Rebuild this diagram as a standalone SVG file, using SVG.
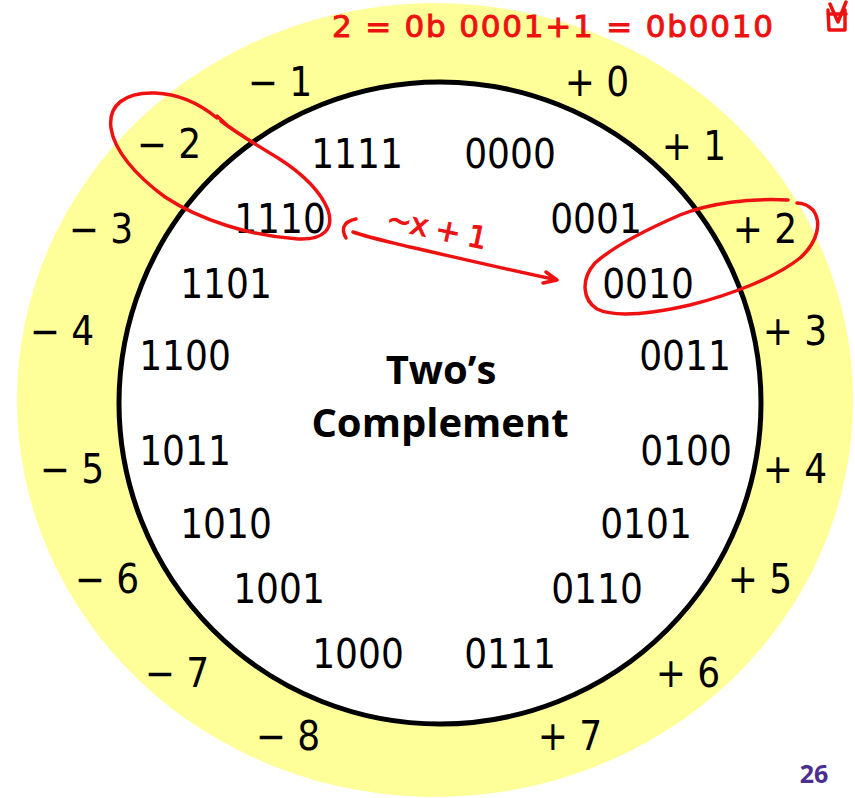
<svg xmlns="http://www.w3.org/2000/svg" width="855" height="798" viewBox="0 0 855 798">
<style>
.bin{font-family:"DejaVu Sans Condensed","DejaVu Sans",sans-serif;font-stretch:condensed;font-size:40px;fill:#000;text-anchor:middle}
.num{font-family:"DejaVu Sans Condensed","DejaVu Sans",sans-serif;font-stretch:condensed;font-size:40px;fill:#000;text-anchor:middle}
.title{font-family:"Open Sans","Liberation Sans",sans-serif;font-weight:700;font-size:40px;fill:#000;text-anchor:middle}
.page{font-family:"Open Sans","Liberation Sans",sans-serif;font-weight:700;font-size:25px;fill:#4b2e8e;text-anchor:middle}
.ink{fill:none;stroke:#ee1111;stroke-width:3.5;stroke-linecap:round;stroke-linejoin:round}
.inktext{font-family:"DejaVu Sans","Liberation Sans",sans-serif;fill:#ee1111;stroke:#ee1111;stroke-width:1}
</style>
<rect width="855" height="798" fill="#fff"/>
<g id="ring">
<ellipse cx="435" cy="400" rx="418" ry="397" fill="#ffff99"/>
<circle cx="440" cy="403" r="321" fill="#fff" stroke="#000" stroke-width="5"/>
</g>
<g id="title"><text class="title" x="441" y="384">Two’s</text><text class="title" x="440" y="437">Complement</text></g>
<g id="bits">
<g id="b1111"><text class="bin" x="357" y="168">1111</text></g>
<g id="b0000"><text class="bin" x="510" y="168">0000</text></g>
<g id="b1110"><text class="bin" x="280" y="233">1110</text></g>
<g id="b0001"><text class="bin" x="596" y="233">0001</text></g>
<g id="b1101"><text class="bin" x="226" y="298">1101</text></g>
<g id="b0010"><text class="bin" x="648" y="298">0010</text></g>
<g id="b1100"><text class="bin" x="185" y="370">1100</text></g>
<g id="b0011"><text class="bin" x="685" y="370">0011</text></g>
<g id="b1011"><text class="bin" x="185" y="465">1011</text></g>
<g id="b0100"><text class="bin" x="686" y="465">0100</text></g>
<g id="b1010"><text class="bin" x="226" y="538">1010</text></g>
<g id="b0101"><text class="bin" x="646" y="538">0101</text></g>
<g id="b1001"><text class="bin" x="279" y="603">1001</text></g>
<g id="b0110"><text class="bin" x="597" y="603">0110</text></g>
<g id="b1000"><text class="bin" x="358" y="668">1000</text></g>
<g id="b0111"><text class="bin" x="510" y="668">0111</text></g>
</g>
<g id="values">
<g id="vm1"><text class="num" x="280" y="96">− 1</text></g>
<g id="vp0"><text class="num" x="597" y="96">+ 0</text></g>
<g id="vm2"><text class="num" x="169" y="158">− 2</text></g>
<g id="vp1"><text class="num" x="694" y="160">+ 1</text></g>
<g id="vm3"><text class="num" x="101" y="243">− 3</text></g>
<g id="vp2"><text class="num" x="765" y="243">+ 2</text></g>
<g id="vm4"><text class="num" x="62" y="345">− 4</text></g>
<g id="vp3"><text class="num" x="795" y="345">+ 3</text></g>
<g id="vm5"><text class="num" x="72" y="483">− 5</text></g>
<g id="vp4"><text class="num" x="795" y="483">+ 4</text></g>
<g id="vm6"><text class="num" x="107" y="593">− 6</text></g>
<g id="vp5"><text class="num" x="760" y="593">+ 5</text></g>
<g id="vm7"><text class="num" x="177" y="687">− 7</text></g>
<g id="vp6"><text class="num" x="688" y="687">+ 6</text></g>
<g id="vm8"><text class="num" x="288" y="750">− 8</text></g>
<g id="vp7"><text class="num" x="570" y="750">+ 7</text></g>
</g>
<g id="page"><text class="page" x="814" y="783">26</text></g>
<g id="annotations">
<path class="ink" d="M217 118 C200 104 180 94 155 93 C125 92 108 105 111 128 C114 150 135 175 165 197 C200 220 250 236 298 239 C325 240 334 228 328 210 C320 190 300 172 278 158 C258 146 238 134 221 121 M217 116 L227 125"/>
<path class="ink" d="M788 200 C750 198 710 203 680 215 C650 228 615 245 595 263 C580 280 583 300 597 309 C615 318 650 314 690 305 C730 295 775 278 800 258 C818 242 822 222 813 210 C808 205 802 203 797 203"/>
<path class="ink" d="M346 238 C342 231 341 222 356 219"/>
<path class="ink" d="M353 232 C370 238 390 242 410 247 C450 256 500 268 557 280 M546 272 L557 280 L543 283"/>
<text class="inktext" font-size="30" x="385" y="228" textLength="102" lengthAdjust="spacing" transform="rotate(12 385 228)">~x + 1</text>
<text class="inktext" font-size="31" x="332" y="37" textLength="441" lengthAdjust="spacing">2 = 0b 0001+1 = 0b0010</text>
<path class="ink" d="M828 10 L829 30 L845 30 L845 10 M830 4 L838 22 L846 2 M828 14 L846 14"/>
</g>
</svg>
